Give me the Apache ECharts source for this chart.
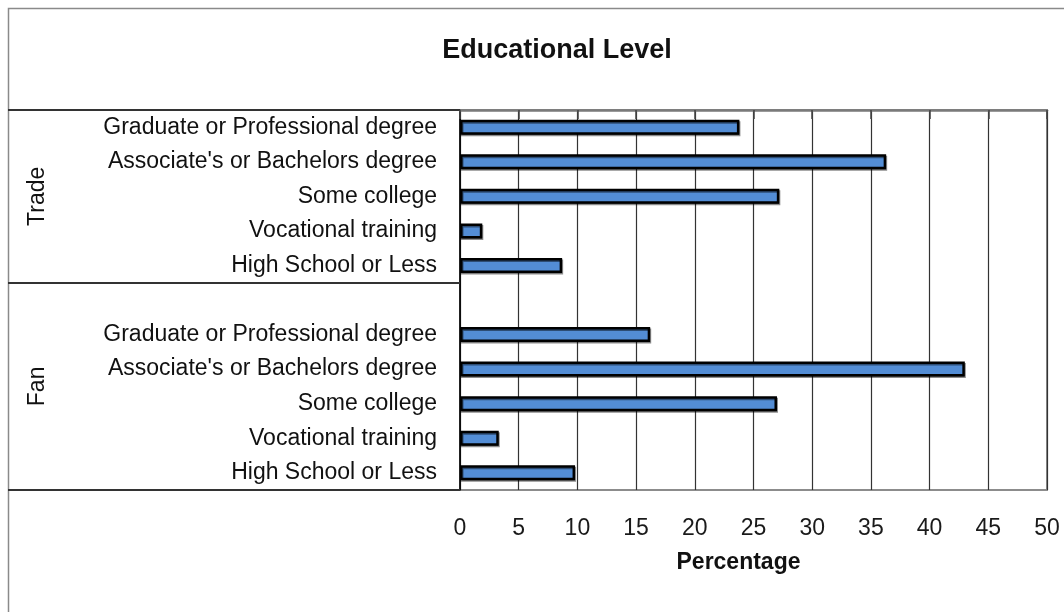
<!DOCTYPE html>
<html>
<head>
<meta charset="utf-8">
<script src="https://cdn.jsdelivr.net/npm/echarts@6/dist/echarts.min.js"></script>
<style>
html,body{margin:0;padding:0;background:#fff;}
#chart{width:1064px;height:612px;}
</style>
</head>
<body>
<div id="chart"></div>
<script>
// ---- data ----
const categories = ['Graduate or Professional degree', "Associate's or Bachelors degree", 'Some college', 'Vocational training', 'High School or Less'];
const groups = ['Trade', 'Fan'];
const tradeValues = [23.8, 36.3, 27.2, 1.9, 8.7];
const fanValues = [16.2, 43.0, 27.0, 3.3, 9.8];
const xMin = 0, xMax = 50, xStep = 5;
const titleText = 'Educational Level';
const xAxisTitle = 'Percentage';

// ---- build rows: Trade rows, one blank spacer, Fan rows ----
const rowLabels = [...categories, '', ...categories];
const rowValues = [...tradeValues, null, ...fanValues];
const tradeEnd = categories.length;            // 5
const totalRows = rowLabels.length;            // 11
const groupBounds = [0, tradeEnd, totalRows];
const groupCenters = [tradeEnd / 2, (tradeEnd + totalRows) / 2];

const FONT = '"Liberation Sans", Arial, Helvetica, sans-serif';
const chart = echarts.init(document.getElementById('chart'), null, {renderer: 'canvas'});
chart.setOption({
  animation: false,
  backgroundColor: '#ffffff',
  title: {
    text: titleText,
    left: 557, top: 37, padding: 0,
    textAlign: 'center',
    textStyle: {fontFamily: FONT, fontSize: 27, fontWeight: 'bold', color: '#111'}
  },
  graphic: [{
    type: 'rect', silent: true, z: -1,
    shape: {x: 8.5, y: 8.5, width: 1100, height: 700},
    style: {fill: 'none', stroke: '#8a8a8a', lineWidth: 1.5}
  }],
  grid: {
    left: 460, right: 17, top: 110, bottom: 122,
    show: true, borderColor: '#8c8c8c', borderWidth: 2, backgroundColor: 'transparent'
  },
  xAxis: {
    type: 'value', min: xMin, max: xMax, interval: xStep,
    name: xAxisTitle, nameLocation: 'middle', nameGap: 61,
    nameTextStyle: {fontFamily: FONT, fontSize: 23, fontWeight: 'bold', color: '#111', padding: [0, 30, 0, 0]},
    axisLine: {show: true, lineStyle: {color: '#7a7a7a', width: 2.5}},
    axisTick: {show: true, length: 9, lineStyle: {color: '#444', width: 1.5}},
    axisLabel: {margin: 27, fontFamily: FONT, fontSize: 23, color: '#1a1a1a'},
    splitLine: {show: true, lineStyle: {color: '#333', width: 1.2}}
  },
  yAxis: [{
    type: 'category', inverse: true, data: rowLabels,
    axisLine: {show: true, lineStyle: {color: '#000', width: 1.5}},
    axisTick: {show: false},
    axisLabel: {margin: 23, fontFamily: FONT, fontSize: 23, color: '#111', interval: 0},
    splitLine: {show: false}
  }, {
    type: 'value', inverse: true, min: 0, max: totalRows,
    position: 'left', offset: 452,
    axisLine: {show: false},
    axisTick: {show: true, inside: true, length: 452, customValues: groupBounds,
      lineStyle: {color: '#333', width: 2}},
    axisLabel: {show: true, inside: true, rotate: 90, margin: 18, customValues: groupCenters,
      formatter: function (v) { return v === groupCenters[0] ? groups[0] : groups[1]; },
      fontFamily: FONT, fontSize: 23, color: '#111'},
    splitLine: {show: false}
  }],
  series: [{
    type: 'bar', yAxisIndex: 0, data: rowValues, barWidth: 15,
    itemStyle: {color: '#538DD5', borderColor: '#000', borderWidth: 2.5,
      shadowColor: 'rgba(0,0,0,0.45)', shadowOffsetX: 1, shadowOffsetY: 1.5, shadowBlur: 0}
  }]
});
</script>
</body>
</html>
